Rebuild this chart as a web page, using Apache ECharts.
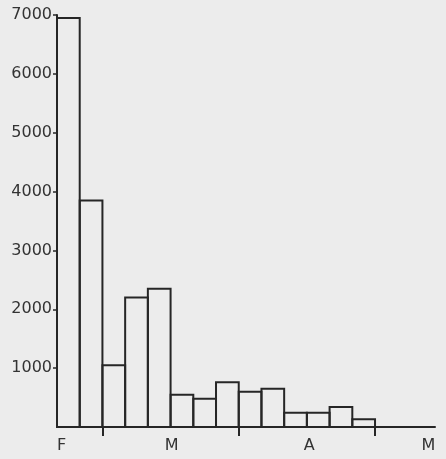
<!DOCTYPE html>
<html>
<head>
<meta charset="utf-8">
<script src="https://cdn.jsdelivr.net/npm/echarts@6/dist/echarts.min.js"></script>
<style>
html,body{margin:0;padding:0;background:#ececec;}
#c{width:446px;height:459px;}
</style>
</head>
<body>
<div id="c"></div>
<script>
// Counts per period (Feb -> Apr)
const periodCounts = [6950, 3850, 1050, 2200, 2350, 550, 480, 760, 600, 650, 240, 240, 340, 130];
// Month boundaries (period index where a new month starts)
const monthTicks = [2, 8, 14];
// Month labels and where they sit along the period axis
const monthLabels = ['F', 'M', 'A', 'M'];
const monthLabelAt = [0.2, 5.05, 11.1, 16.35];
// Y axis ticks
const yTicks = [1000, 2000, 3000, 4000, 5000, 6000, 7000];
const yMax = 7000;
const yStep = 1000;

const ink = '#262626';
const chart = echarts.init(document.getElementById('c'));
chart.setOption({
  animation: false,
  backgroundColor: '#ececec',
  grid: { left: 57, right: 11, top: 15, bottom: 32 },
  xAxis: {
    type: 'value',
    min: 0,
    max: 16.64,
    splitLine: { show: false },
    axisLine: { show: true, lineStyle: { color: ink, width: 2 } },
    axisTick: { show: true, customValues: monthTicks, length: 9, lineStyle: { color: ink, width: 2 } },
    axisLabel: {
      customValues: monthLabelAt,
      margin: 11,
      fontFamily: 'DejaVu Sans',
      fontSize: 16,
      color: '#333',
      formatter: function (v) {
        let best = 0, d = Infinity;
        monthLabelAt.forEach(function (p, i) { if (Math.abs(p - v) < d) { d = Math.abs(p - v); best = i; } });
        return monthLabels[best];
      }
    }
  },
  yAxis: {
    type: 'value',
    min: 0,
    max: yMax,
    interval: yStep,
    splitLine: { show: false },
    axisLine: { show: true, lineStyle: { color: ink, width: 2 } },
    axisTick: { show: true, customValues: yTicks, length: 4, lineStyle: { color: ink, width: 1.5 } },
    axisLabel: {
      customValues: yTicks,
      margin: 5,
      fontFamily: 'DejaVu Sans',
      fontSize: 16,
      color: '#333',
      formatter: function (v) { return String(v); }
    }
  },
  series: [{
    type: 'custom',
    data: periodCounts.map(function (v, i) { return [i, v]; }),
    renderItem: function (params, api) {
      const i = api.value(0), v = api.value(1);
      const p0 = api.coord([i, 0]);
      const p1 = api.coord([i + 1, v]);
      return {
        type: 'rect',
        shape: { x: p0[0], y: p1[1], width: p1[0] - p0[0], height: p0[1] - p1[1] },
        style: { fill: 'none', stroke: ink, lineWidth: 2 }
      };
    }
  }]
});
</script>
</body>
</html>
